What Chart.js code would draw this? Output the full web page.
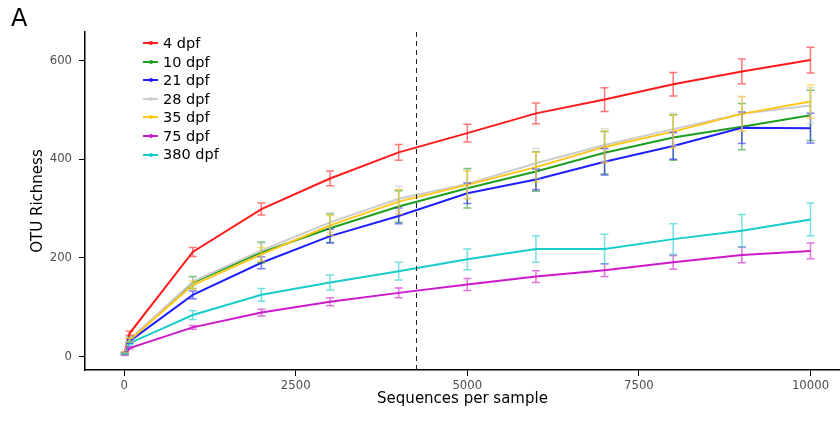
<!DOCTYPE html>
<html>
<head>
<meta charset="utf-8">
<script src="https://cdn.jsdelivr.net/npm/chart.js@4/dist/chart.umd.min.js"></script>
<style>
  html, body { margin: 0; padding: 0; background: #fff; }
  #wrap { position: relative; width: 840px; height: 421px; font-family: "DejaVu Sans", sans-serif; }
  #panel { position: absolute; left: 11px; top: 6px; font-size: 24px; line-height: 24px; color: #000; }
  #legend { position: absolute; left: 143px; top: 34px; font-size: 14.5px; color: #000; }
  .row { display: flex; align-items: center; height: 18.55px; line-height: 18.55px; white-space: nowrap; }
  .sw { position: relative; width: 15px; height: 2px; margin-right: 5px; }
  .sw i { position: absolute; left: 6px; top: -1px; width: 4px; height: 4px; border-radius: 2px; }
</style>
</head>
<body>
<div id="wrap">
  <canvas id="c" width="840" height="421"></canvas>
  <div id="panel">A</div>
  <div id="legend"></div>
</div>
<script>
// ---- data ----
const seqs = [10, 80, 1000, 2000, 3000, 4000, 5000, 6000, 7000, 8000, 9000, 10000];
const groups = ["4 dpf", "10 dpf", "21 dpf", "28 dpf", "35 dpf", "75 dpf", "380 dpf"];
const d4   = [8, 47, 212, 299, 361, 414, 453, 493, 521, 552, 578, 601];
const d10  = [6, 34, 150, 211, 260, 304, 341, 375, 413, 444, 466, 489];
const d21  = [6, 31, 125, 190, 244, 285, 331, 359, 395, 427, 464, 463];
const d28  = [6, 34, 152, 215, 272, 320, 350, 392, 429, 461, 492, 509];
const d35  = [6, 33, 145, 207, 266, 314, 348, 384, 425, 456, 492, 517];
const d75  = [3, 17, 59, 89, 111, 129, 146, 162, 175, 191, 206, 214];
const d380 = [5, 27, 84, 125, 150, 173, 197, 218, 218, 238, 255, 278];
const e4   = [1, 4, 9, 12, 15, 16, 18, 21, 24, 24, 25, 26];
const e10  = [1, 5, 12, 21, 29, 32, 40, 40, 43, 46, 47, 51];
const e21  = [1, 4, 8, 12, 14, 16, 21, 21, 27, 27, 32, 30];
const e28  = [1, 4, 8, 14, 20, 25, 28, 30, 33, 33, 35, 36];
const e35  = [1, 4, 8, 14, 20, 25, 28, 30, 32, 33, 35, 34];
const e75  = [1, 2, 4, 7, 8, 10, 12, 12, 13, 14, 16, 16];
const e380 = [1, 3, 9, 13, 15, 18, 21, 27, 30, 31, 33, 33];
const xTicks = [0, 2500, 5000, 7500, 10000];
const yTicks = [0, 200, 400, 600];
const cutoff = 4250;

const means = [d4, d10, d21, d28, d35, d75, d380];
const errs  = [e4, e10, e21, e28, e35, e75, e380];
const colors = ["#ff1a1a", "#1e9e1e", "#1f1fff", "#cccccc", "#ffc61a", "#cc19cc", "#19cccc"];

function rgba(hex, a) {
  const n = parseInt(hex.slice(1), 16);
  return `rgba(${(n >> 16) & 255},${(n >> 8) & 255},${n & 255},${a})`;
}

// legend (HTML text)
const leg = document.getElementById('legend');
groups.forEach((g, i) => {
  const r = document.createElement('div'); r.className = 'row';
  const sw = document.createElement('span'); sw.className = 'sw'; sw.style.background = colors[i];
  const dot = document.createElement('i'); dot.style.background = colors[i]; sw.appendChild(dot);
  const t = document.createElement('span'); t.textContent = g;
  r.appendChild(sw); r.appendChild(t); leg.appendChild(r);
});

const errPlugin = {
  id: 'errbars',
  afterDatasetsDraw(chart) {
    const {ctx, scales: {x, y}} = chart;
    ctx.save();
    ctx.lineWidth = 1.5;
    means.forEach((m, i) => {
      ctx.strokeStyle = rgba(colors[i], 0.6);
      seqs.forEach((sx, j) => {
        const px = x.getPixelForValue(sx);
        const pt = y.getPixelForValue(m[j] + errs[i][j]);
        const pb = y.getPixelForValue(m[j] - errs[i][j]);
        ctx.beginPath();
        ctx.moveTo(px, pt); ctx.lineTo(px, pb);
        ctx.moveTo(px - 4, pt); ctx.lineTo(px + 4, pt);
        ctx.moveTo(px - 4, pb); ctx.lineTo(px + 4, pb);
        ctx.stroke();
      });
    });
    // dashed cutoff
    const cx = Math.round(x.getPixelForValue(cutoff)) + 0.5;
    ctx.strokeStyle = '#222';
    ctx.lineWidth = 1;
    ctx.setLineDash([5, 4]);
    ctx.beginPath();
    ctx.moveTo(cx, chart.chartArea.top);
    ctx.lineTo(cx, chart.chartArea.bottom);
    ctx.stroke();
    ctx.restore();
  }
};

const datasets = means.map((m, i) => ({
  label: groups[i],
  data: seqs.map((s, j) => ({x: s, y: m[j]})),
  borderColor: colors[i],
  backgroundColor: colors[i],
  borderWidth: 2,
  pointRadius: 0,
  tension: 0,
  fill: false,
  order: 10 - i
}));

const tickFont = {family: "DejaVu Sans", size: 11.7};
new Chart(document.getElementById('c'), {
  type: 'line',
  data: {datasets},
  options: {
    responsive: false,
    animation: false,
    devicePixelRatio: 1,
    layout: {padding: {top: 32, right: 0, left: 0, bottom: 0}},
    plugins: {legend: {display: false}, tooltip: {enabled: false}},
    scales: {
      x: {
        type: 'linear', min: -570, max: 10430,
        afterBuildTicks: s => { s.ticks = xTicks.map(v => ({value: v})); },
        afterFit: s => { s.height = 51; },
        ticks: {font: tickFont, color: '#4d4d4d', padding: 3, maxRotation: 0, callback: v => String(v)},
        grid: {display: true, drawOnChartArea: false, drawTicks: true, tickLength: 6, color: '#000', lineWidth: 1},
        border: {display: true, color: '#000', width: 1.5},
        title: {display: true, text: 'Sequences per sample', color: '#000', font: {family: "DejaVu Sans", size: 15}, padding: {top: 0, bottom: 13}}
      },
      y: {
        type: 'linear', min: -27.4, max: 658,
        afterBuildTicks: s => { s.ticks = yTicks.map(v => ({value: v})); },
        afterFit: s => { s.width = 85; },
        ticks: {font: tickFont, color: '#4d4d4d', padding: 7, callback: v => String(v)},
        grid: {display: true, drawOnChartArea: false, drawTicks: true, tickLength: 6, color: '#000', lineWidth: 1},
        border: {display: true, color: '#000', width: 1.5},
        title: {display: true, text: 'OTU Richness', color: '#000', font: {family: "DejaVu Sans", size: 15}, padding: {top: 29, bottom: 0}}
      }
    }
  },
  plugins: [errPlugin]
});
</script>
</body>
</html>
